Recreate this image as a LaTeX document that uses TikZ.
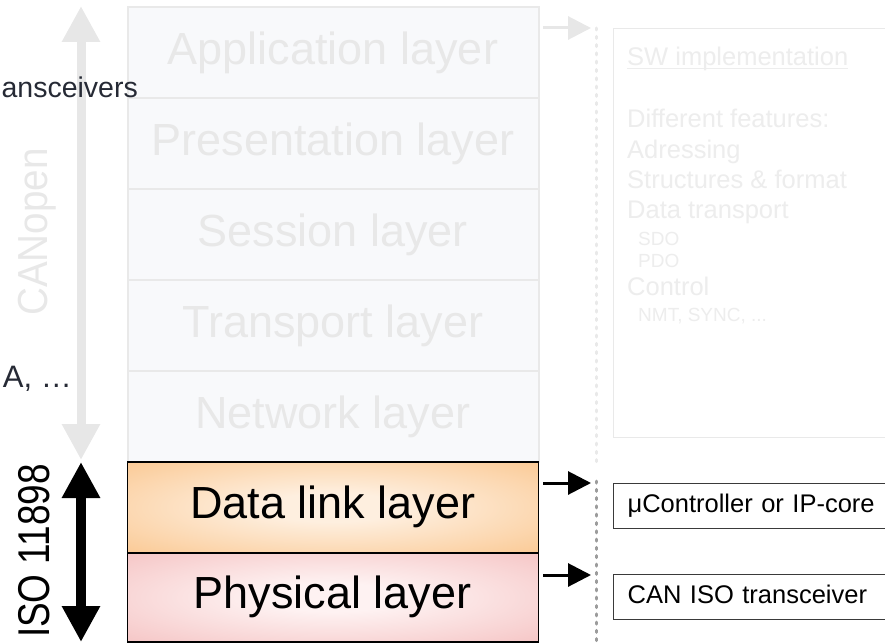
\documentclass[tikz,border=0pt]{standalone}
\usepackage{fontspec}
\setmainfont{Liberation Sans}
\usetikzlibrary{arrows.meta}

\definecolor{fadetext}{HTML}{E8E8E8}
\definecolor{fadenote}{HTML}{EDEDED}
\definecolor{fadeline}{HTML}{E9E9E9}
\definecolor{fadefill}{HTML}{F8F9FB}
\definecolor{fadearrow}{HTML}{E7E7E7}
\definecolor{dlin}{HTML}{FEEFDF}
\definecolor{dlout}{HTML}{FAC48A}
\definecolor{phin}{HTML}{FEF2F2}
\definecolor{phout}{HTML}{F4BFBF}
\definecolor{notetext}{HTML}{262A35}
\definecolor{dashgray}{HTML}{9C9C9C}
\definecolor{boxline}{HTML}{3A3A3A}

% soft glow used inside the two active layers
\pgfdeclareradialshading{dlglow}{\pgfpoint{0bp}{0bp}}{color(0bp)=(dlin); color(8bp)=(dlin); color(40bp)=(dlout); color(100bp)=(dlout)}
\pgfdeclareradialshading{phglow}{\pgfpoint{0bp}{0bp}}{color(0bp)=(phin); color(8bp)=(phin); color(40bp)=(phout); color(100bp)=(phout)}

\begin{document}
\begin{tikzpicture}[x=1pt,y=-1pt,
  layerbox/.style={rectangle, anchor=north west, minimum width=411pt,
    minimum height=91pt, inner sep=0pt, font=\fontsize{45}{50}\selectfont},
  fadedlayer/.style={layerbox, draw=fadeline, line width=2pt, fill=fadefill, text=fadetext},
  activelayer/.style={layerbox, draw=black, line width=1.5pt},
  swline/.style={anchor=base west, inner sep=0pt, text=fadenote,
    font=\fontsize{25.5}{30}\selectfont},
  swsmall/.style={swline, font=\fontsize{19}{22}\selectfont},
  partbox/.style={rectangle, anchor=north west, draw=boxline, line width=1.2pt,
    fill=white, minimum height=45pt, text width=262pt, align=left,
    inner xsep=14pt, inner ysep=0pt, text height=18.6pt, text depth=5.4pt,
    font=\fontsize{25.5}{30}\selectfont},
  pointer/.style={line width=3pt, -{Triangle[length=23pt,width=23pt]}},
  bigspan/.style={line width=9pt,
    {Triangle[length=36pt,width=36pt]}-{Triangle[length=36pt,width=36pt]}},
  sidenote/.style={anchor=base east, inner sep=0pt, text=notetext}
]
\useasboundingbox (0,0) rectangle (885,642);
\clip (0,0) rectangle (885,642);

% OSI stack
\node[fadedlayer] (app)   at (126.5,6)   {Application layer};
\node[fadedlayer] (pres)  at (126.5,97)  {Presentation layer};
\node[fadedlayer] (sess)  at (126.5,188) {Session layer};
\node[fadedlayer] (trans) at (126.5,279) {Transport layer};
\node[fadedlayer] (net)   at (126.5,370) {Network layer};
\node[activelayer, shading=dlglow] (dl)  at (126.5,461) {Data link layer};
\node[activelayer, shading=phglow, minimum height=89pt] (phy) at (126.5,552) {Physical layer};

% left: scope arrows
\coordinate (coTop) at (81,6);
\coordinate (coBot) at (81,460);
\coordinate (isoTop) at (81,462);
\coordinate (isoBot) at (81,642);
\draw[bigspan, draw=fadearrow, fill=fadearrow] (coTop) -- (coBot);
\draw[bigspan, line width=10pt, draw=black, fill=black] (isoTop) -- (isoBot);

\node[rotate=90, text=fadetext, font=\fontsize{42}{44}\selectfont, inner sep=0pt]
  (canopen) at (37,232) {\scalebox{0.92}[1]{CANopen}};
\node[rotate=90, text=black, font=\fontsize{44.5}{46}\selectfont, inner sep=0pt]
  (iso) at (34,551) {\scalebox{0.83}[1]{ISO 11898}};

% right: dashed rail and pointers
\coordinate (railTop) at (596,28);
\coordinate (railMid) at (596,462);
\coordinate (railLow) at (596,481);
\coordinate (railBot) at (596,646);
\draw[fadeline, line width=3pt, line cap=round, dash pattern=on 2pt off 6.3pt] (railTop) -- (railMid);
\draw[dashgray, line width=3pt, line cap=round, dash pattern=on 2pt off 6.3pt] (railLow) -- (railBot);

\coordinate (swFrom) at (543,28);   \coordinate (swTo) at (591,28);
\coordinate (dlFrom) at (543,483);  \coordinate (dlTo) at (591,483);
\coordinate (phFrom) at (543,575);  \coordinate (phTo) at (591,575);
\draw[pointer, draw=fadearrow, fill=fadearrow] (swFrom) -- (swTo);
\draw[pointer, draw=black, fill=black] (dlFrom) -- (dlTo);
\draw[pointer, draw=black, fill=black] (phFrom) -- (phTo);

% software implementation notes
\node[rectangle, anchor=north west, draw=fadeline, line width=1.2pt, fill=white,
  minimum width=290pt, minimum height=409pt] (swbox) at (613,28) {};
\node[swline] (swhead) at (627,65) {SW implementation};
\draw[fadenote, line width=1.3pt] ([yshift=-3.5pt]swhead.base west) -- ([yshift=-3.5pt]swhead.base east);
\node[swline]  (feat)  at (627,127) {Different features:};
\node[swline]  (addr)  at (627,158) {Adressing};
\node[swline]  (fmt)   at (627,188) {Structures \& format};
\node[swline]  (xfer)  at (627,218) {Data transport};
\node[swsmall] (sdo)   at (638,245) {SDO};
\node[swsmall] (pdo)   at (638,267) {PDO};
\node[swline]  (ctrl)  at (627,295) {Control};
\node[swsmall] (nmt)   at (638,321) {NMT, SYNC, ...};

% hardware parts
\node[partbox] (mcu) at (613,483) {μController or IP-core};
\node[partbox] (trx) at (613,574) {CAN ISO transceiver};

% side notes
\node[sidenote, font=\fontsize{28.5}{32}\selectfont] (noteA) at (138,97) {ansceivers};
\node[sidenote, font=\fontsize{31}{34}\selectfont] (noteB) at (72,387) {A, …};
\end{tikzpicture}
\end{document}
